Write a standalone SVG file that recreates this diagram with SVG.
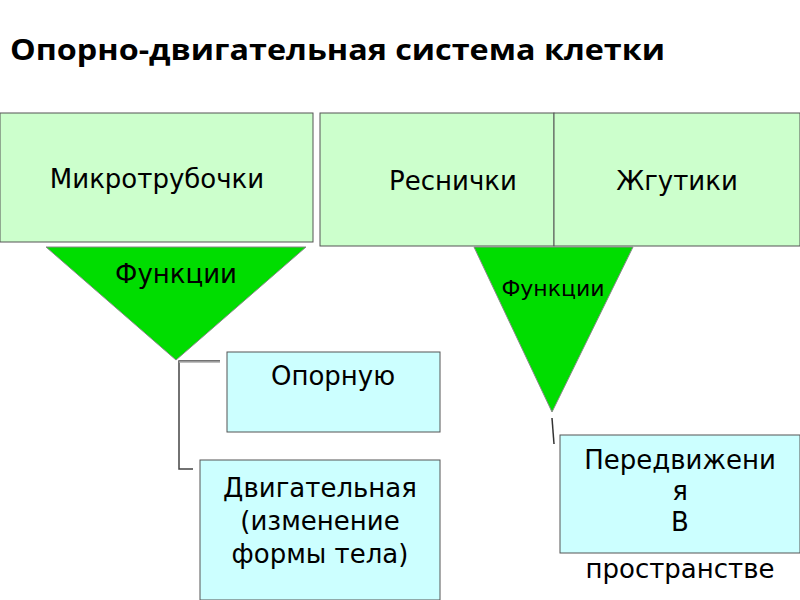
<svg xmlns="http://www.w3.org/2000/svg" width="800" height="600" viewBox="0 0 800 600">
<style>
.box{fill:#ccffcc;stroke:#555;stroke-width:1}
.cyan{fill:#ccffff;stroke:#555;stroke-width:1}
.tri{fill:#00dd00;stroke:#888;stroke-width:1}
.t{font-family:"DejaVu Sans",sans-serif;font-size:26px;fill:#000;text-anchor:middle}
.c{fill:none;stroke:#333;stroke-width:1.5}
</style>
<rect width="800" height="600" fill="#fff"/>
<text x="10" y="60" font-family="Open Sans, sans-serif" font-weight="bold" font-size="29" fill="#000" textLength="655" lengthAdjust="spacingAndGlyphs">Опорно-двигательная система клетки</text>
<g id="microtubules"><rect class="box" x="0" y="113" width="313" height="129"/><text class="t" x="157" y="188">Микротрубочки</text></g>
<g id="cilia"><rect class="box" x="320" y="113" width="234" height="133"/><text class="t" x="453" y="190">Реснички</text></g>
<g id="flagella"><rect class="box" x="554" y="113" width="246" height="133"/><text class="t" x="677" y="190">Жгутики</text></g>
<g id="functions1"><polygon class="tri" points="46,247 306,247 176,360"/><text class="t" x="176" y="283">Функции</text></g>
<g id="functions2"><polygon class="tri" points="474,247 633,247 552,412"/><text class="t" x="553" y="296" style="font-size:22px">Функции</text></g>
<g id="support"><rect class="cyan" x="227" y="352" width="213" height="80"/><text class="t" x="333" y="385">Опорную</text></g>
<g id="motor"><rect class="cyan" x="200" y="460" width="240" height="140"/><text class="t" x="320" y="497">Двигательная</text><text class="t" x="320" y="530">(изменение</text><text class="t" x="320" y="563">формы тела)</text></g>
<g id="movement"><rect class="cyan" x="560" y="435" width="240" height="118"/><text class="t" x="680" y="469">Передвижени</text><text class="t" x="680" y="500">я</text><text class="t" x="680" y="531">В</text><text class="t" x="680" y="578">пространстве</text></g>
<g id="connectors">
<polyline class="c" points="220,361 179,361 179,469 193,469" style="stroke:#444"/>
<line x1="179" y1="362" x2="220" y2="362" stroke="#aaa" stroke-width="1.5"/>
<line class="c" x1="552" y1="418" x2="554" y2="444"/>
</g>
</svg>
